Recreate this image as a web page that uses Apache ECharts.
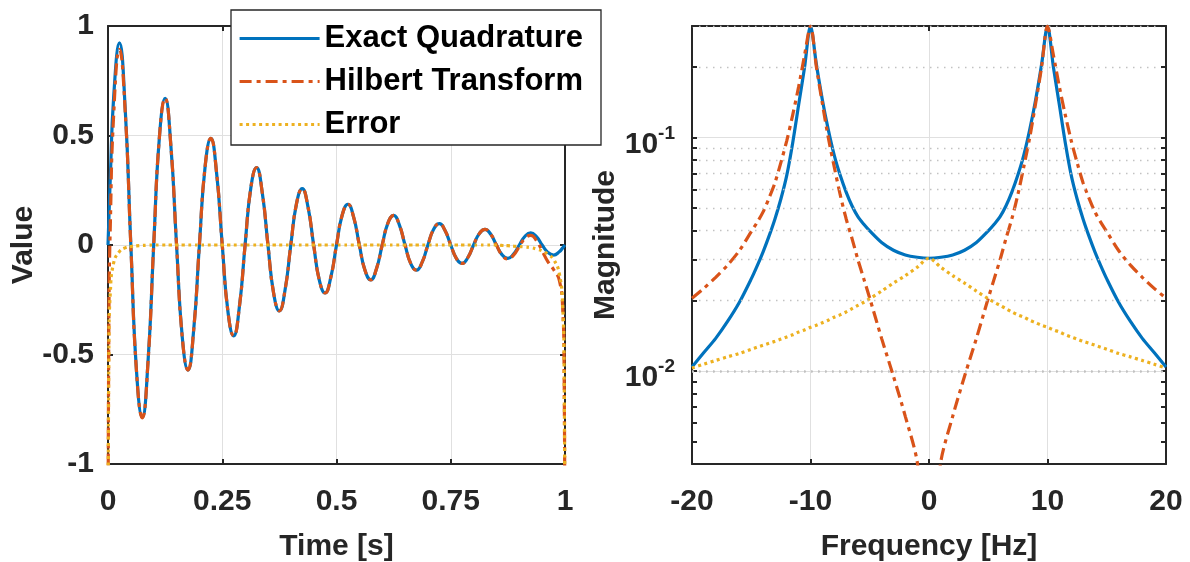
<!DOCTYPE html>
<html>
<head>
<meta charset="utf-8">
<script src="https://cdn.jsdelivr.net/npm/echarts@6/dist/echarts.min.js"></script>
<style>
html,body{margin:0;padding:0;background:#fff;}
#chart{width:1190px;height:562px;}
</style>
</head>
<body>
<div id="chart"></div>
<script>
// ---------- Left panel: time domain ----------
const time = [0, 0.002, 0.005, 0.0125, 0.025, 0.0375, 0.05, 0.0625, 0.075, 0.0875,
  0.1, 0.1125, 0.125, 0.1375, 0.15, 0.1625, 0.175, 0.1875,
  0.2, 0.2125, 0.225, 0.2375, 0.25, 0.2625, 0.275, 0.2875,
  0.3, 0.3125, 0.325, 0.3375, 0.35, 0.3625, 0.375, 0.3875,
  0.4, 0.4125, 0.425, 0.4375, 0.45, 0.4625, 0.475, 0.4875,
  0.5, 0.5125, 0.525, 0.5375, 0.55, 0.5625, 0.575, 0.5875,
  0.6, 0.6125, 0.625, 0.6375, 0.65, 0.6625, 0.675, 0.6875,
  0.7, 0.7125, 0.725, 0.7375, 0.75, 0.7625, 0.775, 0.7875,
  0.8, 0.8125, 0.825, 0.8375, 0.85, 0.8625, 0.875, 0.8875,
  0.9, 0.9125, 0.925, 0.9375, 0.95, 0.9625, 0.975, 0.9875,
  0.995, 0.998, 1];

const exactQuad = [0, 0.125, 0.304, 0.679, 0.923, 0.627, 0, -0.579, -0.787, -0.535,
  0, 0.493, 0.670, 0.455, 0, -0.421, -0.571, -0.388,
  0, 0.358, 0.487, 0.331, 0, -0.305, -0.415, -0.282,
  0, 0.260, 0.353, 0.240, 0, -0.221, -0.301, -0.204,
  0, 0.189, 0.257, 0.175, 0, -0.161, -0.219, -0.148,
  0, 0.137, 0.186, 0.127, 0, -0.117, -0.159, -0.108,
  0, 0.100, 0.135, 0.092, 0, -0.085, -0.115, -0.078,
  0, 0.072, 0.098, 0.066, 0, -0.062, -0.084, -0.057,
  0, 0.052, 0.071, 0.049, 0, -0.045, -0.061, -0.041,
  0, 0.040, 0.056, 0.038, 0, -0.034, -0.046, -0.031,
  -0.013, -0.005, 0];

const hilbertT = [-1.6, -0.325, 0.084, 0.599, 0.893, 0.614, -0.007, -0.583, -0.789, -0.536,
  0, 0.493, 0.670, 0.455, 0, -0.421, -0.571, -0.388,
  0, 0.358, 0.487, 0.331, 0, -0.305, -0.415, -0.282,
  0, 0.260, 0.353, 0.240, 0, -0.221, -0.301, -0.204,
  0, 0.189, 0.257, 0.175, 0, -0.161, -0.219, -0.148,
  0, 0.137, 0.186, 0.127, 0, -0.117, -0.159, -0.108,
  0, 0.100, 0.135, 0.092, 0, -0.085, -0.115, -0.078,
  0, 0.072, 0.098, 0.066, 0, -0.062, -0.084, -0.057,
  0, 0.052, 0.071, 0.049, 0, -0.047, -0.064, -0.046,
  -0.007, 0.031, 0.044, 0.020, -0.027, -0.076, -0.112, -0.161,
  -0.293, -0.555, -1.6];

const errorT = [-1.6, -0.45, -0.22, -0.08, -0.03, -0.013, -0.007, -0.004, -0.002, -0.001,
  0, 0, 0, 0, 0, 0, 0, 0,
  0, 0, 0, 0, 0, 0, 0, 0,
  0, 0, 0, 0, 0, 0, 0, 0,
  0, 0, 0, 0, 0, 0, 0, 0,
  0, 0, 0, 0, 0, 0, 0, 0,
  0, 0, 0, 0, 0, 0, 0, 0,
  0, 0, 0, 0, 0, 0, 0, 0,
  0, 0, 0, 0, 0, -0.002, -0.003, -0.005,
  -0.007, -0.009, -0.012, -0.018, -0.027, -0.042, -0.066, -0.13,
  -0.28, -0.55, -1.6];

// ---------- Right panel: frequency domain ----------
const freq = [-20, -19, -18, -17, -16, -15, -14.5, -14, -13.5, -13, -12.5, -12, -11.5, -11, -10.5, -10,
  -9.5, -9, -8.5, -8, -7.5, -7, -6.5, -6, -5.5, -5, -4, -3, -2, -1, 0,
  1, 2, 3, 4, 5, 5.5, 6, 6.5, 7, 7.5, 8, 8.5, 9, 9.5, 10,
  10.5, 11, 11.5, 12, 12.5, 13, 13.5, 14, 14.5, 15, 16, 17, 18, 19, 20];

const magExact = [0.0104, 0.0120, 0.0138, 0.0163, 0.0197, 0.0248, 0.0282, 0.0324, 0.0378, 0.0448, 0.0545, 0.069, 0.095, 0.138, 0.20, 0.30,
  0.205, 0.145, 0.108, 0.084, 0.069, 0.0585, 0.051, 0.0458, 0.0425, 0.0398, 0.0355, 0.0329, 0.0314, 0.0307, 0.0304,
  0.0307, 0.0314, 0.0329, 0.0355, 0.0398, 0.0425, 0.0458, 0.051, 0.0585, 0.069, 0.084, 0.108, 0.145, 0.205, 0.30,
  0.20, 0.138, 0.095, 0.069, 0.0545, 0.0448, 0.0378, 0.0324, 0.0282, 0.0248, 0.0197, 0.0163, 0.0138, 0.0120, 0.0104];

const magHilbert = [0.0205, 0.0226, 0.0252, 0.0284, 0.0328, 0.0395, 0.0433, 0.048, 0.055, 0.064, 0.078, 0.097, 0.125, 0.165, 0.225, 0.30,
  0.20, 0.14, 0.10, 0.075, 0.057, 0.045, 0.037, 0.030, 0.0248, 0.0205, 0.0138, 0.0095, 0.0064, 0.0041, 0.0015,
  0.0041, 0.0064, 0.0095, 0.0138, 0.0205, 0.0248, 0.030, 0.037, 0.045, 0.057, 0.075, 0.10, 0.14, 0.20, 0.30,
  0.225, 0.165, 0.125, 0.097, 0.078, 0.064, 0.055, 0.048, 0.0433, 0.0395, 0.0328, 0.0284, 0.0252, 0.0226, 0.0205];

const magError = [0.0103, 0.0107, 0.0111, 0.0115, 0.0119, 0.0124, 0.01265, 0.0129, 0.01315, 0.0134, 0.0137, 0.0140, 0.0143, 0.0147, 0.0150, 0.0154,
  0.0157, 0.0161, 0.0165, 0.0170, 0.0174, 0.0179, 0.0185, 0.0191, 0.0197, 0.0204, 0.0220, 0.0238, 0.0256, 0.0278, 0.0304,
  0.0278, 0.0256, 0.0238, 0.0220, 0.0204, 0.0197, 0.0191, 0.0185, 0.0179, 0.0174, 0.0170, 0.0165, 0.0161, 0.0157, 0.0154,
  0.0150, 0.0147, 0.0143, 0.0140, 0.0137, 0.0134, 0.01315, 0.0129, 0.01265, 0.0124, 0.0119, 0.0115, 0.0111, 0.0107, 0.0103];

const minorLogTicks = [0.005, 0.006, 0.007, 0.008, 0.009, 0.02, 0.03, 0.04, 0.05, 0.06, 0.07, 0.08, 0.09, 0.2, 0.3];

const seriesNames = ['Exact Quadrature', 'Hilbert Transform', 'Error'];
const seriesColors = ['#0072BD', '#D95319', '#EDB120'];
const seriesDash = ['solid', [12, 5, 4, 5], [3, 3.5]];

// ---------- Styling ----------
const FONT = "'Liberation Sans', Arial, Helvetica, sans-serif";
const AXC = '#262626';
const labelStyle = { fontSize: 30, fontWeight: 'bold', color: AXC, fontFamily: FONT };
const nameStyle = { fontSize: 30, fontWeight: 'bold', color: AXC, fontFamily: FONT };
const axLine = { show: true, onZero: false, lineStyle: { color: AXC, width: 2 } };
const axTick = { show: true, inside: true, length: 5, lineStyle: { color: AXC, width: 2 } };
const gridLine = { show: true, lineStyle: { color: '#e0e0e0', width: 1 } };

function pairs(xs, ys) { return xs.map((x, i) => [x, ys[i]]); }

function logLabel(v) {
  const e = Math.round(Math.log10(v));
  if (Math.abs(v / Math.pow(10, e) - 1) < 1e-6) return '{b|10}{s|' + e + '}';
  return '';
}

const chart = echarts.init(document.getElementById('chart'), null, { renderer: 'canvas' });

const leftSeries = seriesNames.map((n, k) => ({
  name: n, type: 'line', xAxisIndex: 0, yAxisIndex: 0,
  data: pairs(time, [exactQuad, hilbertT, errorT][k]),
  symbol: 'none', smooth: 0.5, clip: true,
  itemStyle: { color: seriesColors[k] },
  lineStyle: { color: seriesColors[k], width: 3.2, type: seriesDash[k], cap: 'butt' },
  z: 2 + k
}));

const rightSeries = seriesNames.map((n, k) => ({
  name: n, type: 'line', xAxisIndex: 2, yAxisIndex: 2,
  data: pairs(freq, [magExact, magHilbert, magError][k]),
  symbol: 'none', smooth: 0.3, clip: true,
  itemStyle: { color: seriesColors[k] },
  lineStyle: { color: seriesColors[k], width: 3.2, type: seriesDash[k], cap: 'butt' },
  z: 2 + k
}));

const minorGridLines = minorLogTicks.map(v => ({ yAxis: v }));
const minorTickMarks = [];
minorLogTicks.forEach(v => {
  minorTickMarks.push([{ coord: [-20, v] }, { coord: [-19.58, v] }]);
  minorTickMarks.push([{ coord: [20, v] }, { coord: [19.58, v] }]);
});

const helperSeries = [
  {
    name: 'minorGrid', type: 'line', xAxisIndex: 2, yAxisIndex: 2, data: [], silent: true, z: 1,
    markLine: {
      silent: true, symbol: ['none', 'none'], label: { show: false }, animation: false,
      lineStyle: { color: '#c2c2c2', width: 1.3, type: [1.5, 5.5] },
      emphasis: { disabled: true },
      data: minorGridLines
    }
  },
  {
    name: 'minorTicks', type: 'line', xAxisIndex: 2, yAxisIndex: 2, data: [], silent: true, z: 6,
    markLine: {
      silent: true, symbol: ['none', 'none'], label: { show: false }, animation: false,
      lineStyle: { color: AXC, width: 2, type: 'solid' },
      emphasis: { disabled: true },
      data: minorTickMarks
    }
  }
];

const option = {
  animation: false,
  backgroundColor: '#ffffff',
  grid: [
    { left: 108, top: 26, width: 457, height: 438, containLabel: false, outerBoundsMode: 'none' },
    { left: 692, top: 26, width: 474, height: 438, containLabel: false, outerBoundsMode: 'none' }
  ],
  xAxis: [
    { gridIndex: 0, type: 'value', position: 'bottom', min: 0, max: 1, interval: 0.25,
      axisLine: axLine, axisTick: axTick, splitLine: gridLine,
      axisLabel: Object.assign({ margin: 23 }, labelStyle),
      name: 'Time [s]', nameLocation: 'middle', nameGap: 68, nameTextStyle: nameStyle },
    { gridIndex: 0, type: 'value', position: 'top', min: 0, max: 1, interval: 0.25,
      axisLine: axLine, axisTick: axTick, splitLine: { show: false }, axisLabel: { show: false } },
    { gridIndex: 1, type: 'value', position: 'bottom', min: -20, max: 20, interval: 10,
      axisLine: axLine, axisTick: axTick, splitLine: gridLine,
      axisLabel: Object.assign({ margin: 23 }, labelStyle),
      name: 'Frequency [Hz]', nameLocation: 'middle', nameGap: 68, nameTextStyle: nameStyle },
    { gridIndex: 1, type: 'value', position: 'top', min: -20, max: 20, interval: 10,
      axisLine: axLine, axisTick: axTick, splitLine: { show: false }, axisLabel: { show: false } }
  ],
  yAxis: [
    { gridIndex: 0, type: 'value', position: 'left', min: -1, max: 1, interval: 0.5,
      axisLine: axLine, axisTick: axTick, splitLine: gridLine,
      axisLabel: Object.assign({ margin: 14 }, labelStyle),
      name: 'Value', nameLocation: 'middle', nameGap: 69, nameTextStyle: nameStyle },
    { gridIndex: 0, type: 'value', position: 'right', min: -1, max: 1, interval: 0.5,
      axisLine: axLine, axisTick: axTick, splitLine: { show: false }, axisLabel: { show: false } },
    { gridIndex: 1, type: 'log', logBase: 10, position: 'left', min: 0.004, max: 0.3,
      axisLine: axLine, axisTick: axTick, splitLine: gridLine,
      axisLabel: {
        margin: 17, fontSize: 30, fontWeight: 'bold', color: AXC, fontFamily: FONT,
        formatter: logLabel,
        rich: {
          b: { fontSize: 30, fontWeight: 'bold', color: AXC, fontFamily: FONT, padding: [14, 0, 0, 0] },
          s: { fontSize: 19, fontWeight: 'bold', color: AXC, fontFamily: FONT, padding: [0, 0, 8, 0] }
        }
      },
      name: 'Magnitude', nameLocation: 'middle', nameGap: 71, nameTextStyle: nameStyle },
    { gridIndex: 1, type: 'log', logBase: 10, position: 'right', min: 0.004, max: 0.3,
      axisLine: axLine, axisTick: axTick, splitLine: { show: false }, axisLabel: { show: false } }
  ],
  legend: {
    data: seriesNames, orient: 'vertical', left: 238, top: 23, padding: 0,
    itemWidth: 80, itemHeight: 14, itemGap: 12, z: 60,
    textStyle: { fontSize: 31, fontWeight: 'bold', color: '#000', fontFamily: FONT },
    lineStyle: { width: 3.2 },
    itemStyle: { color: 'rgba(0,0,0,0)', borderColor: 'rgba(0,0,0,0)', borderWidth: 0, opacity: 0 },
    selectedMode: false
  },
  graphic: [
    { type: 'rect', z: 50, shape: { x: 231, y: 10, width: 370, height: 135 },
      style: { fill: '#ffffff', stroke: AXC, lineWidth: 1.3 } }
  ],
  series: leftSeries.concat(rightSeries, helperSeries)
};

chart.setOption(option);
</script>
</body>
</html>
